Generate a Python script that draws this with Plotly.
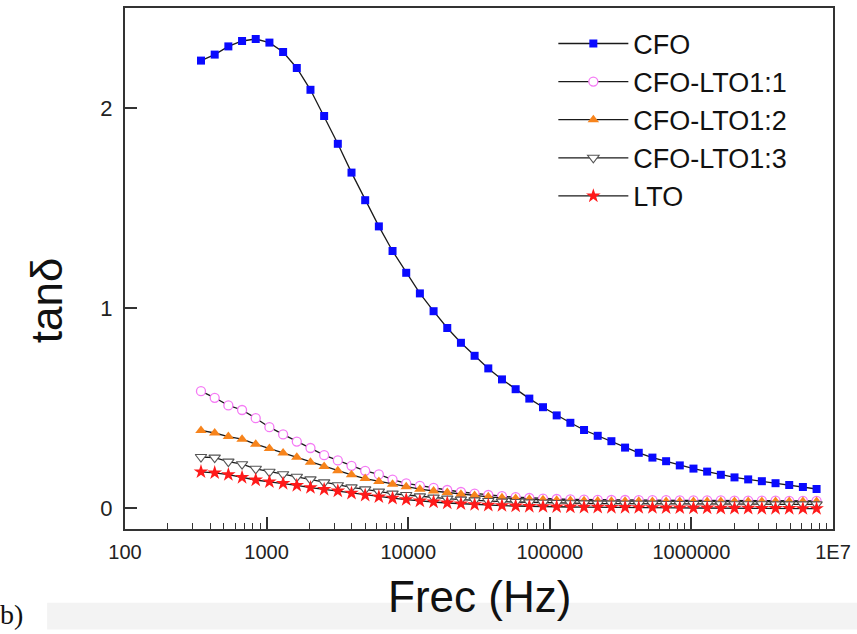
import plotly.graph_objects as go

# Measurement frequencies (Hz)
freq = [344, 430, 537, 671, 838, 1047, 1308, 1634, 2041, 2549,
        3184, 3978, 4969, 6206, 7752, 9683, 12094, 15109, 18872, 23574,
        29444, 36780, 45941, 57387, 71680, 89536, 111839, 139700, 174500, 217970,
        272270, 340090, 424810, 530640, 662830, 827940, 1034200, 1291800, 1613600, 2015600,
        2517700, 3144900, 3928300, 4906900, 6129200, 7656000]

# Loss tangent for each sample
tan_cfo = [2.237, 2.267, 2.308, 2.335, 2.345, 2.327, 2.280, 2.200, 2.091, 1.960,
           1.821, 1.677, 1.539, 1.408, 1.285, 1.176, 1.073, 0.984, 0.900, 0.826,
           0.761, 0.698, 0.643, 0.594, 0.547, 0.504, 0.463, 0.426, 0.390, 0.361,
           0.334, 0.302, 0.276, 0.252, 0.234, 0.213, 0.197, 0.182, 0.166, 0.153,
           0.143, 0.134, 0.124, 0.115, 0.105, 0.095]
tan_11 = [0.584, 0.551, 0.513, 0.490, 0.449, 0.404, 0.368, 0.332, 0.300, 0.264,
          0.238, 0.211, 0.186, 0.168, 0.142, 0.123, 0.111, 0.101, 0.090, 0.080,
          0.072, 0.065, 0.059, 0.054, 0.050, 0.047, 0.045, 0.043, 0.042, 0.041,
          0.040, 0.040, 0.039, 0.039, 0.039, 0.038, 0.038, 0.038, 0.038, 0.037,
          0.037, 0.037, 0.037, 0.036, 0.036, 0.036]
tan_12 = [0.388, 0.375, 0.357, 0.344, 0.319, 0.297, 0.275, 0.254, 0.229, 0.207,
          0.186, 0.166, 0.147, 0.133, 0.119, 0.106, 0.094, 0.085, 0.077, 0.069,
          0.062, 0.056, 0.051, 0.047, 0.044, 0.041, 0.039, 0.037, 0.036, 0.035,
          0.034, 0.034, 0.034, 0.033, 0.033, 0.033, 0.033, 0.033, 0.032, 0.032,
          0.032, 0.032, 0.032, 0.032, 0.032, 0.032]
tan_13 = [0.255, 0.252, 0.232, 0.219, 0.196, 0.181, 0.169, 0.156, 0.143, 0.128,
          0.114, 0.103, 0.093, 0.082, 0.072, 0.065, 0.058, 0.052, 0.047, 0.042,
          0.038, 0.035, 0.032, 0.030, 0.028, 0.026, 0.025, 0.024, 0.023, 0.022,
          0.022, 0.021, 0.021, 0.021, 0.020, 0.020, 0.020, 0.020, 0.019, 0.019,
          0.019, 0.019, 0.018, 0.018, 0.018, 0.018]
tan_lto = [0.181, 0.176, 0.167, 0.153, 0.140, 0.131, 0.123, 0.113, 0.102, 0.093,
           0.085, 0.074, 0.064, 0.056, 0.049, 0.042, 0.035, 0.030, 0.025, 0.021,
           0.017, 0.014, 0.012, 0.010, 0.008, 0.007, 0.006, 0.005, 0.004, 0.004,
           0.003, 0.003, 0.002, 0.002, 0.001, 0.001, 0.000, 0.000, -0.001, -0.001,
           -0.001, -0.002, -0.002, -0.002, -0.003, -0.003]

x_tickvals = [1e2, 1e3, 1e4, 1e5, 1e6, 1e7]
x_ticktext = ["100", "1000", "10000", "100000", "1000000", "1E7"]
y_tickvals = [0, 1, 2]

series = [
    ("CFO", tan_cfo, dict(symbol="square", size=8, color="#0a0aff",
                          line=dict(width=0))),
    ("CFO-LTO1:1", tan_11, dict(symbol="circle", size=9, color="white",
                                line=dict(width=1.3, color="#f57af5"))),
    ("CFO-LTO1:2", tan_12, dict(symbol="triangle-up", size=10, color="#f7841c",
                                line=dict(width=0))),
    ("CFO-LTO1:3", tan_13, dict(symbol="triangle-down", size=10, color="white",
                                line=dict(width=1.1, color="#555555"))),
    ("LTO", tan_lto, dict(symbol="star", size=11, color="#ff1a1a",
                          line=dict(width=0))),
]

fig = go.Figure()
for name, vals, mk in series:
    fig.add_trace(go.Scatter(
        x=freq, y=vals, name=name, mode="lines+markers",
        line=dict(color="#1a1a1a", width=1.3),
        marker=mk,
    ))

axis_font = dict(family="Liberation Sans, Arial", size=20, color="#222")

fig.update_layout(
    width=857, height=634,
    margin=dict(l=125, r=23, t=6, b=105),
    paper_bgcolor="white", plot_bgcolor="white",
    showlegend=True,
    legend=dict(
        x=0.605, y=0.978, xanchor="left", yanchor="top",
        bgcolor="rgba(0,0,0,0)", borderwidth=0,
        font=dict(family="Liberation Sans, Arial", size=27, color="#111"),
        itemwidth=70, tracegroupgap=0,
    ),
    xaxis=dict(
        type="log", range=[2, 7],
        tickvals=x_tickvals, ticktext=x_ticktext,
        ticks="inside", ticklen=12, tickwidth=1.5, tickcolor="#333",
        minor=dict(ticks="inside", ticklen=6, tickwidth=1.3, tickcolor="#333",
                   dtick="D1", showgrid=False),
        showline=True, linewidth=2, linecolor="#333", mirror=True,
        showgrid=False, zeroline=False,
        tickfont=axis_font, ticklabelstandoff=4,
    ),
    yaxis=dict(
        range=[-0.105, 2.5],
        tickvals=y_tickvals,
        ticks="inside", ticklen=12, tickwidth=1.5, tickcolor="#333",
        showline=True, linewidth=2, linecolor="#333", mirror=True,
        showgrid=False, zeroline=False,
        tickfont=dict(family="Liberation Sans, Arial", size=22, color="#222"),
        ticklabelstandoff=6,
    ),
    shapes=[
        dict(type="rect", xref="paper", yref="paper", layer="below",
             x0=-0.11, x1=1.04, y0=-0.1415, y1=-0.193,
             fillcolor="#f3f3f3", line=dict(width=0)),
    ],
    annotations=[
        dict(text="Frec (Hz)", xref="paper", yref="paper", x=0.5, y=-0.130,
             xanchor="center", yanchor="middle", showarrow=False,
             font=dict(family="Liberation Sans, Arial", size=44, color="#111")),
        dict(text="tanδ", xref="paper", yref="paper", x=-0.111, y=0.44,
             xanchor="center", yanchor="middle", showarrow=False, textangle=-90,
             font=dict(family="Liberation Sans, Arial", size=44, color="#111")),
        dict(text="b)", xref="paper", yref="paper", x=-0.16, y=-0.165,
             xanchor="center", yanchor="middle", showarrow=False,
             font=dict(family="Liberation Serif, Times New Roman", size=28, color="#111")),
    ],
)

fig.write_html("out.html")
